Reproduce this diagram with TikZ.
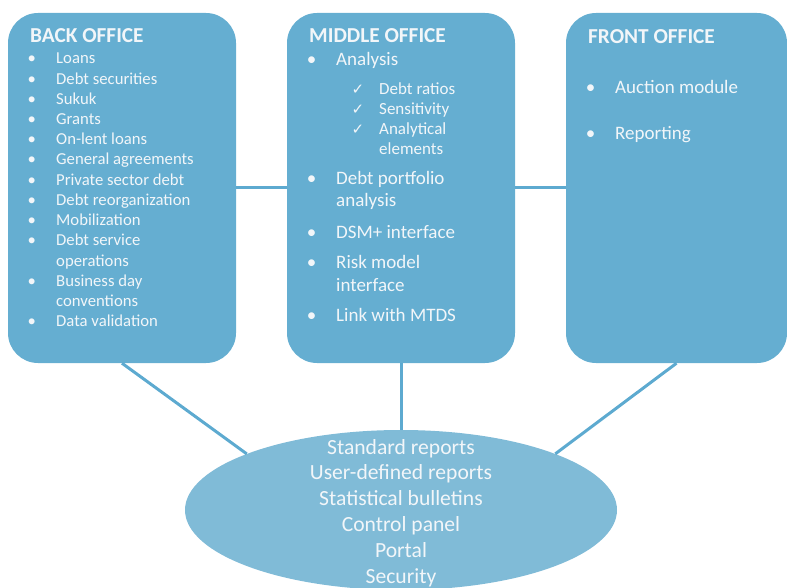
\documentclass[tikz,border=0pt]{standalone}
\usepackage{fontspec}
\setmainfont{Carlito}
\newfontfamily\symfont{DejaVu Sans}
\usetikzlibrary{shapes.geometric}
\definecolor{boxblue}{HTML}{65AED1}
\definecolor{ellblue}{HTML}{80BBD7}
\definecolor{lineblue}{HTML}{5DAAD0}
\definecolor{txt}{HTML}{F2F6F9}
\tikzset{
  office/.style={draw=none, fill=boxblue, rounded corners=30pt, minimum width=228pt, minimum height=350pt, inner sep=0pt},
  conn/.style={draw=lineblue, line width=3pt},
  hdr/.style={text=txt, font=\fontsize{21.3}{24}\selectfont\bfseries, inner sep=0pt, anchor=base west},
  itm/.style={text=txt, font=\fontsize{16.7}{19}\selectfont, inner sep=0pt, anchor=base west},
  itmb/.style={itm, font=\fontsize{19}{22}\selectfont},
  subitm/.style={itm, font=\fontsize{17}{19}\selectfont},
  elltxt/.style={text=txt, font=\fontsize{21.6}{25}\selectfont, inner sep=0pt, anchor=base},
}
\newcommand\bitem[5][itm]{%
  \node[#1] (#2) at (#3,#4) {#5};
  \node[#1, anchor=base] (#2b) at (#3-24.3,#4) {•};}
\newcommand\citem[4]{%
  \node[subitm] (#1) at (#2,#3) {#4};
  \node[subitm, anchor=base, font=\fontsize{15}{17}\symfont] (#1c) at (#2-21.2,#3-0.5) {✓};}
\begin{document}
\begin{tikzpicture}[x=1pt,y=-1pt]
\useasboundingbox (0,0) rectangle (787,588);
% boxes
\node[office] (back) at (122,188) {};
\node[office] (mid) at (401,188) {};
\node[office, minimum width=221pt] (front) at (676.5,188) {};
\node[ellipse, fill=ellblue, minimum width=432pt, minimum height=160pt, inner sep=0pt] (ell) at (401,510) {};
% connectors
\draw[conn] (back.east) -- (mid.west);
\draw[conn] (mid.east) -- (front.west);
\draw[conn] (mid.south) -- (ell.north);
\draw[conn] (back.south) -- (ell.160);
\draw[conn] (front.south) -- (ell.20);
% back office
\node[hdr] (bh) at (30,42.7) {BACK OFFICE};
\bitem{b1}{56}{64}{Loans}
\bitem{b2}{56}{84.2}{Debt securities}
\bitem{b3}{56}{104.4}{Sukuk}
\bitem{b4}{56}{124.6}{Grants}
\bitem{b5}{56}{144.8}{On-lent loans}
\bitem{b6}{56}{165}{General agreements}
\bitem{b7}{56}{185.2}{Private sector debt}
\bitem{b8}{56}{205.4}{Debt reorganization}
\bitem{b9}{56}{225.6}{Mobilization}
\bitem{b10}{56}{245.8}{Debt service}
\node[itm] (b10x) at (56,266) {operations};
\bitem{b11}{56}{286.2}{Business day}
\node[itm] (b11x) at (56,306.4) {conventions};
\bitem{b12}{56}{326.6}{Data validation}
% middle office
\node[hdr] (mh) at (309,42.7) {MIDDLE OFFICE};
\bitem[itmb]{m1}{336}{66}{Analysis}
\citem{c1}{379}{95}{Debt ratios}
\citem{c2}{379}{115}{Sensitivity}
\citem{c3}{379}{135}{Analytical}
\node[subitm] (c3x) at (379,155) {elements};
\bitem[itmb]{m2}{336}{184.3}{Debt portfolio}
\node[itmb] (m2x) at (336,206.7) {analysis};
\bitem[itmb]{m3}{336}{238.3}{DSM+ interface}
\bitem[itmb]{m4}{336}{268.3}{Risk model}
\node[itmb] (m4x) at (336,291.7) {interface};
\bitem[itmb]{m5}{336}{321.7}{Link with MTDS}
% front office
\node[hdr] (fh) at (588,43.3) {FRONT OFFICE};
\bitem[itmb]{f1}{615}{93.3}{Auction module}
\bitem[itmb]{f2}{615}{140}{Reporting}
% ellipse text
\node[elltxt] (e1) at (401,454) {Standard reports};
\node[elltxt] (e2) at (401,479.6) {User-defined reports};
\node[elltxt] (e3) at (401,505.6) {Statistical bulletins};
\node[elltxt] (e4) at (401,531.6) {Control panel};
\node[elltxt] (e5) at (401,557.6) {Portal};
\node[elltxt] (e6) at (401,583.6) {Security};
\end{tikzpicture}
\end{document}
